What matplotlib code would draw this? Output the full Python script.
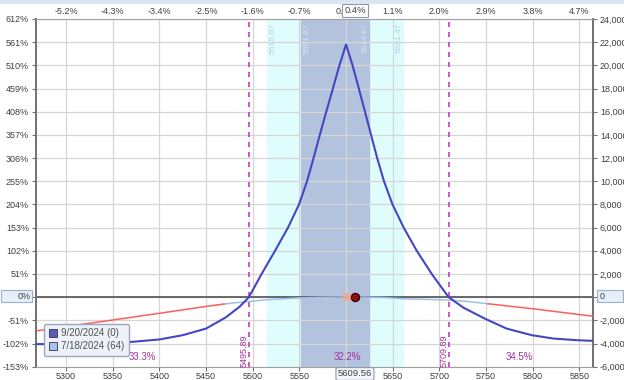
import matplotlib
matplotlib.use("Agg")
import matplotlib.pyplot as plt
from matplotlib.lines import Line2D
from matplotlib.patches import Rectangle, FancyBboxPatch
import numpy as np

plt.rcParams['font.family'] = ['Liberation Sans', 'DejaVu Sans']

# expiration curve 9/20/2024 (0)
exp_price = [5268, 5300, 5350, 5400, 5425, 5450, 5471, 5486, 5495.89, 5509.5, 5523.9,
             5537.8, 5549.6, 5558.2, 5565.2, 5571.9, 5578.8, 5585.9, 5592.9, 5600,
             5607.0, 5613.7, 5620.3, 5626.8, 5633.4, 5640.7, 5649.8, 5661.8, 5675.8,
             5691.9, 5709.89, 5725.7, 5749, 5772, 5799, 5822, 5847, 5865]
exp_pnl = [-4050, -4050, -4000, -3650, -3280, -2710, -1750, -820, 0, 2000, 4000,
           6000, 8000, 10000, 12000, 14000, 16000, 18000, 20000, 21800,
           20000, 18000, 16000, 14000, 12000, 10000, 8000, 6000, 4000,
           2000, 0, -900, -1860, -2710, -3280, -3570, -3710, -3770]

# T+0 curve 7/18/2024 (64)
t0_price = [5268, 5300, 5350, 5400, 5450, 5471, 5500, 5514, 5550, 5580, 5610,
            5640, 5661, 5710, 5730, 5752, 5800, 5865]
t0_pnl = [-2910, -2540, -1970, -1390, -800, -570, -340, -230, -60, 0, 20,
          -30, -140, -250, -370, -570, -1000, -1650]
t0_inner = (5471, 5752)  # light blue part, red outside

spot = 5609.56
spot_pct = '0.4%'
breakevens = [5495.89, 5709.89]
band_outer = (5515.07, 5661.47)
band_inner = (5551.67, 5624.87)
probs = ['33.3%', '32.2%', '34.5%']
prob_x = [5382, 5602, 5786]

x_ticks = [5300, 5350, 5400, 5450, 5500, 5550, 5600, 5650, 5700, 5750, 5800, 5850]
top_labels = ['-5.2%', '-4.3%', '-3.4%', '-2.5%', '-1.6%', '-0.7%', '0.2%',
              '1.1%', '2.0%', '2.9%', '3.8%', '4.7%']
y_ticks = list(range(-6000, 24001, 2000))
left_labels = ['-153%', '-102%', '-51%', '0%', '51%', '102%', '153%', '204%', '255%',
               '306%', '357%', '408%', '459%', '510%', '561%', '612%']
right_labels = ['-6,000', '-4,000', '-2,000', '0', '2,000', '4,000', '6,000', '8,000',
                '10,000', '12,000', '14,000', '16,000', '18,000', '20,000', '22,000', '24,000']

fs = 6.5
tc = '#404040'
purple = '#a030a0'

fig = plt.figure(figsize=(6.24, 3.8), dpi=100)
ax = fig.add_axes([36/624, 13.3/380, 557/624, 347.7/380])
ax.set_xlim(5267.7, 5864.7)
ax.set_ylim(-6000, 24000)

# bands
ax.axvspan(*band_outer, color='#e0fdfd', zorder=0)
ax.axvspan(*band_inner, color='#b3c3de', zorder=0.5)

ax.set_xticks(x_ticks)
ax.set_yticks(y_ticks)
ax.grid(True, color='#d6d6d6', lw=0.9, zorder=1)
ax.set_axisbelow(True)

# zero line
ax.axhline(0, color='#505050', lw=1.2, zorder=2)

# T+0 curve
t0p = np.array(t0_price)
t0v = np.array(t0_pnl)
lo, hi = t0_inner
m_left = t0p <= lo
m_mid = (t0p >= lo) & (t0p <= hi)
m_right = t0p >= hi
ax.plot(t0p[m_left], t0v[m_left], color='#ff5c5c', lw=1.1, zorder=3)
ax.plot(t0p[m_mid], t0v[m_mid], color='#9cc0ea', lw=1.1, zorder=3)
ax.plot(t0p[m_right], t0v[m_right], color='#ff5c5c', lw=1.1, zorder=3)

# expiration curve
ax.plot(exp_price, exp_pnl, color='#4646c4', lw=1.5, zorder=4)

# breakeven lines
for be in breakevens:
    ax.axvline(be, color='#c23cc2', lw=1.2, ls=(0, (3, 3)), zorder=3)
    ax.text(be - 5, -6000, f'{be:.2f}', rotation=90, ha='center', va='bottom',
            fontsize=fs, color=purple, zorder=5)

# band labels
ax.text(band_outer[0] + 6.5, 23650, f'{band_outer[0]:.2f}', rotation=90, ha='center', va='top',
        fontsize=6, color='#b0d0e2', zorder=5)
ax.text(band_inner[0] + 6.5, 23650, f'{band_inner[0]:.2f}', rotation=90, ha='center', va='top',
        fontsize=6, color='#dde4f0', zorder=5)
ax.text(band_inner[1] - 4.5, 23650, f'{band_inner[1]:.2f}', rotation=90, ha='center', va='top',
        fontsize=6, color='#dde4f0', zorder=5)
ax.text(band_outer[1] - 4.5, 23650, f'{band_outer[1]:.2f}', rotation=90, ha='center', va='top',
        fontsize=6, color='#b0d0e2', zorder=5)

for px, lab in zip(prob_x, probs):
    ax.text(px, -5120, lab, ha='center', va='center', fontsize=fs + 0.5, color=purple, zorder=5)

# spot marker
ax.add_patch(Rectangle((5596.8, -300), 11.8, 700, color='#f2a890', alpha=0.85, zorder=5, lw=0))
ax.plot([spot], [0], 'o', ms=6, color='#8e1010', mec='#300000', mew=0.8, zorder=6)

# axes styling
for s in ['left', 'right']:
    ax.spines[s].set_color('#707070')
    ax.spines[s].set_linewidth(1.4)
for s in ['top', 'bottom']:
    ax.spines[s].set_color('#a0a0a0')
    ax.spines[s].set_linewidth(0.8)

ax.set_yticklabels([l if l != '0%' else '' for l in left_labels])
ax.set_xticklabels([str(t) if t != 5600 else '' for t in x_ticks])
ax.tick_params(axis='both', labelsize=fs, colors='#707070', labelcolor=tc, length=3, width=0.8, pad=2)
ax.tick_params(axis='x', pad=1)

ax2 = ax.twinx()
ax2.set_ylim(ax.get_ylim())
ax2.set_yticks(y_ticks)
ax2.set_yticklabels([l if l != '0' else '' for l in right_labels])
ax2.tick_params(labelsize=fs, colors='#707070', labelcolor=tc, length=3, width=0.8, pad=2)
for s in ax2.spines.values():
    s.set_visible(False)

ax3 = ax.twiny()
ax3.set_xlim(ax.get_xlim())
ax3.set_xticks(x_ticks)
ax3.set_xticklabels(top_labels)
ax3.tick_params(labelsize=fs, colors='#a0a0a0', labelcolor=tc, length=0, pad=2)
for s in ax3.spines.values():
    s.set_visible(False)

# highlighted labels
ax.annotate(f'{spot:.2f}', xy=(spot, 0), xycoords=('data', 'axes fraction'),
            xytext=(0, -2), textcoords='offset points', ha='center', va='top',
            fontsize=fs + 0.3, color=tc, zorder=10, annotation_clip=False,
            bbox=dict(boxstyle='round,pad=0.2', fc='#f4f6fa', ec='#8a98b0', lw=0.8))
ax3.annotate(spot_pct, xy=(spot, 1), xycoords=('data', 'axes fraction'),
             xytext=(0, 3), textcoords='offset points', ha='center', va='bottom',
             fontsize=fs + 0.3, color=tc, zorder=10, annotation_clip=False,
             bbox=dict(boxstyle='square,pad=0.2', fc='white', ec='#8a98b0', lw=0.8))

# zero boxes on both sides
fig.patches.append(FancyBboxPatch((1/624, 78/380), 31/624, 12/380, boxstyle='square,pad=0',
                                  transform=fig.transFigure, fc='#e6eef8', ec='#9ab0cc', lw=0.8))
fig.text(31/624, 83.8/380, '0%', ha='right', va='center', fontsize=fs, color=tc)
fig.patches.append(FancyBboxPatch((597/624, 78/380), 26/624, 12/380, boxstyle='square,pad=0',
                                  transform=fig.transFigure, fc='#e6eef8', ec='#9ab0cc', lw=0.8))
fig.text(600/624, 83.8/380, '0', ha='left', va='center', fontsize=fs, color=tc)

# header strip
fig.patches.append(Rectangle((0, 376/380), 1, 4/380, transform=fig.transFigure,
                             fc='#dce6f2', ec='none'))

# legend
handles = [Line2D([], [], ls='none', marker='s', ms=6, mfc='#5a5ab4', mec='#303060', mew=0.6),
           Line2D([], [], ls='none', marker='s', ms=6, mfc='#a8c4ea', mec='#303060', mew=0.6)]
leg = ax.legend(handles, ['9/20/2024 (0)', '7/18/2024 (64)'], loc='lower left',
                bbox_to_anchor=(0.006, 0.016), fontsize=fs + 0.5, frameon=True, fancybox=True,
                facecolor='#edf1f8', edgecolor='#9aa6c0', framealpha=1, handlelength=0.8,
                handletextpad=0.4, borderpad=0.5, labelspacing=0.3)
for t in leg.get_texts():
    t.set_color('#505050')
leg.set_zorder(8)

fig.savefig('out.png', dpi=100)
